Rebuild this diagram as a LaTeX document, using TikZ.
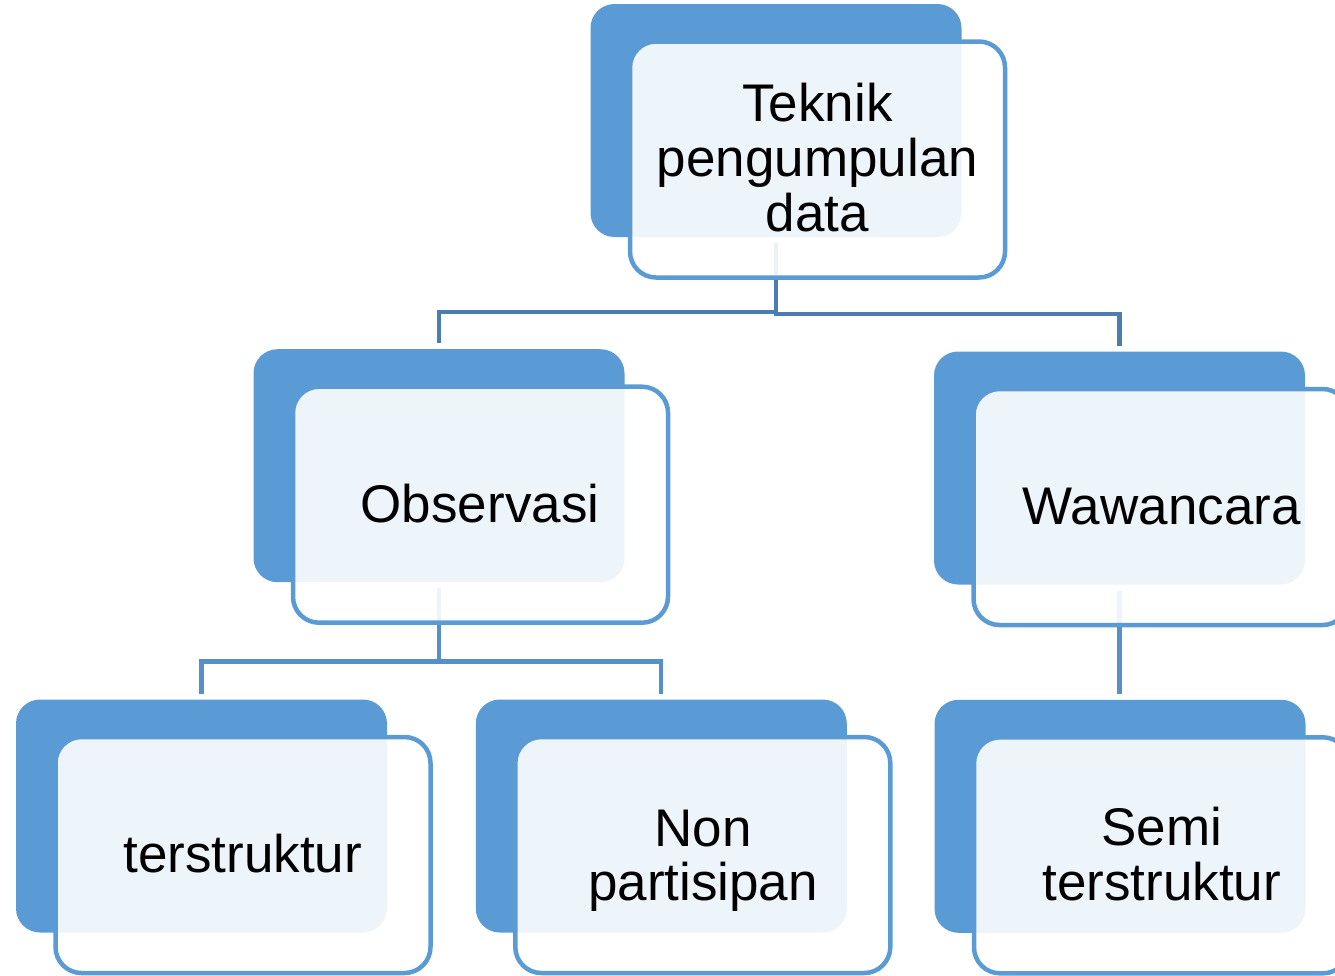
\documentclass[tikz,border=0pt]{standalone}
\usepackage{fontspec}
\setmainfont{Liberation Sans}
\usetikzlibrary{calc}
\definecolor{boxblue}{HTML}{5B9BD5}
\definecolor{connA}{HTML}{4A7EB1}
\definecolor{connB}{HTML}{5590CA}
\begin{document}
\begin{tikzpicture}[x=1pt,y=-1pt,
  backbox/.style={rectangle, rounded corners=24pt, fill=boxblue, draw=none,
    minimum width=371pt, minimum height=233pt, inner sep=0pt, outer sep=0pt},
  frontbox/.style={rectangle, rounded corners=26pt, draw=boxblue, line width=4.5pt,
    fill=white, fill opacity=0.9, minimum width=375pt, minimum height=236pt,
    inner sep=0pt, outer sep=0pt},
  boxtext/.style={anchor=base, inner sep=0pt, text=black,
    font=\fontsize{53}{54.7}\selectfont},
  connA/.style={draw=connA, line width=4.3pt},
  connB/.style={draw=connB, line width=4.3pt},
]
\useasboundingbox (0,0) rectangle (1335,975);
\clip (0,0) rectangle (1335,975);

% back boxes
\node[backbox] (topB)  at (776,120.5) {};
\node[backbox] (obsB)  at (439,465.7) {};
\node[backbox] (wawB)  at (1119.5,468) {};
\node[backbox] (terB)  at (201.5,816) {};
\node[backbox] (nonB)  at (661.3,816) {};
\node[backbox] (semiB) at (1120,816.3) {};

% connectors
\draw[connA] ($(topB.south)+(0,6)$) -- ($(topB.south)+(0,75)$) -| ($(obsB.north)+(0,-6)$);
\draw[connA] ($(topB.south)+(0,6)$) -- ($(topB.south)+(0,77)$) -| ($(wawB.north)+(0,-5.5)$);
\draw[connB] ($(obsB.south)+(0,6)$) -- ($(obsB.south)+(0,79.3)$) -| ($(terB.north)+(0,-5.5)$);
\draw[connB] ($(obsB.south)+(0,6)$) -- ($(obsB.south)+(0,79.3)$) -| ($(nonB.north)+(0,-5.5)$);
\draw[connB] ($(wawB.south)+(0,6)$) -- ($(wawB.south |- semiB.north)+(0,-5.5)$);

% front boxes
\node[frontbox] (topF)  at (817.5,159.5) {};
\node[frontbox] (obsF)  at (480.5,504.7) {};
\node[frontbox] (wawF)  at (1161,507) {};
\node[frontbox] (terF)  at (243,855) {};
\node[frontbox] (nonF)  at (702.8,855) {};
\node[frontbox] (semiF) at (1161.5,855.3) {};

% texts
\node[boxtext] (topT)  at (817.5,121.7) {\parbox[t]{420pt}{\centering Teknik\\pengumpulan\\data}};
\node[boxtext] (obsT)  at (480,522.7) {Observasi};
\node[boxtext] (wawT)  at (1161.8,524.3) {Wawancara};
\node[boxtext] (terT)  at (242.8,872.7) {terstruktur};
\node[boxtext] (nonT)  at (703,846) {\parbox[t]{420pt}{\centering Non\\partisipan}};
\node[boxtext] (semiT) at (1161.7,845.7) {\parbox[t]{420pt}{\centering Semi\\terstruktur}};
\end{tikzpicture}
\end{document}
